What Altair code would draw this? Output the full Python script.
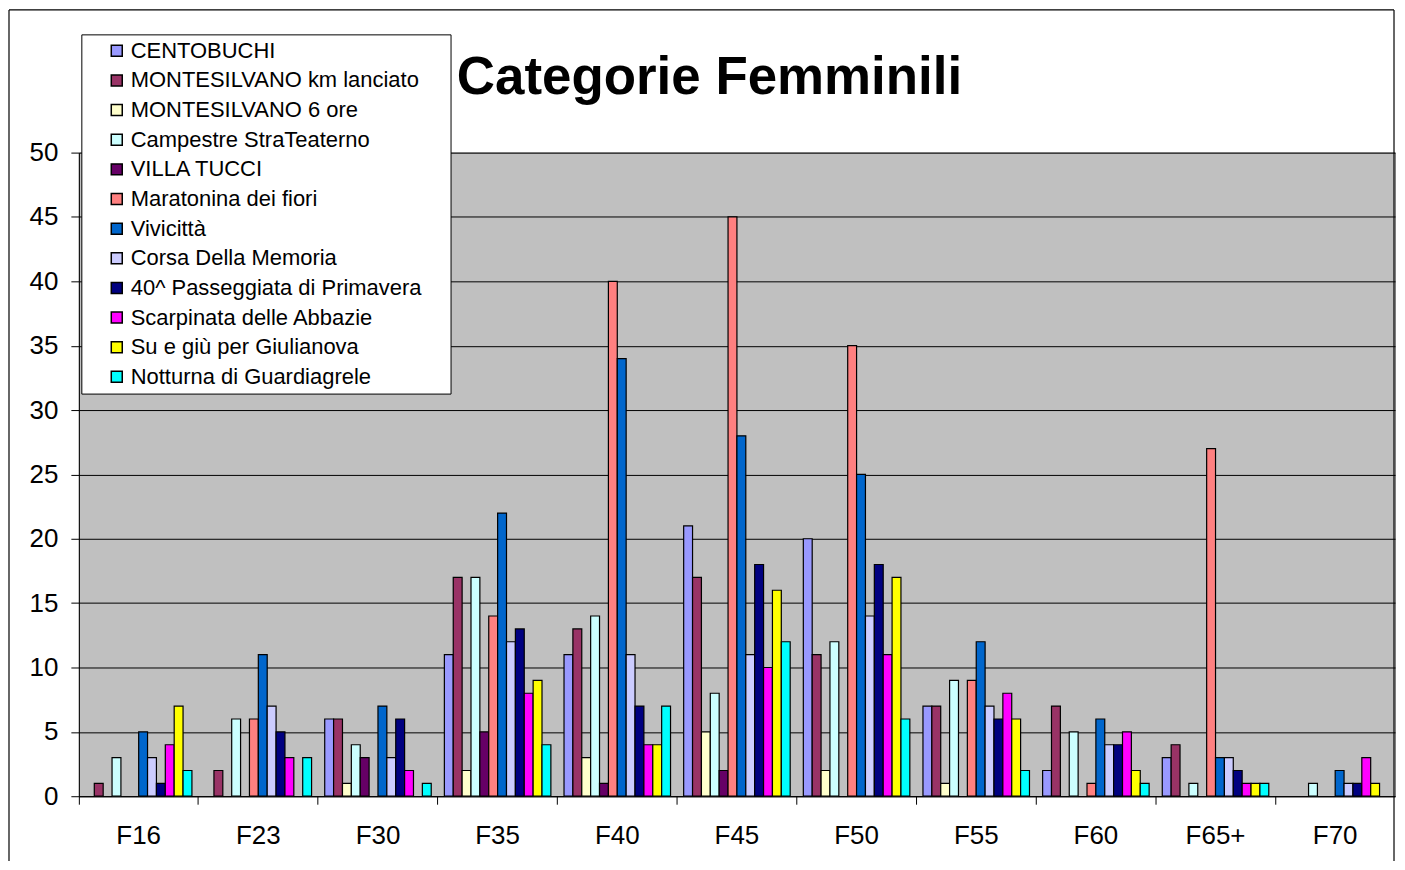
import altair as alt
import pandas as pd

categories = ["F16", "F23", "F30", "F35", "F40", "F45", "F50", "F55", "F60", "F65+", "F70"]

series = [
    "CENTOBUCHI",
    "MONTESILVANO km lanciato",
    "MONTESILVANO 6 ore",
    "Campestre StraTeaterno",
    "VILLA TUCCI",
    "Maratonina dei fiori",
    "Vivicittà",
    "Corsa Della Memoria",
    "40^ Passeggiata di Primavera",
    "Scarpinata delle Abbazie",
    "Su e giù per Giulianova",
    "Notturna di Guardiagrele",
]

colors = ["#9999FF", "#993366", "#FFFFCC", "#CCFFFF", "#660066", "#FF8080",
          "#0066CC", "#CCCCFF", "#000080", "#FF00FF", "#FFFF00", "#00FFFF"]

centobuchi   = [0, 0, 6, 11, 11, 21, 20, 7, 2, 3, 0]
km_lanciato  = [1, 2, 6, 17, 13, 17, 11, 7, 7, 4, 0]
sei_ore      = [0, 0, 1, 2, 3, 5, 2, 1, 0, 0, 0]
campestre    = [3, 6, 4, 17, 14, 8, 12, 9, 5, 1, 1]
villa_tucci  = [0, 0, 3, 5, 1, 2, 0, 0, 0, 0, 0]
maratonina   = [0, 6, 0, 14, 40, 45, 35, 9, 1, 27, 0]
vivicitta    = [5, 11, 7, 22, 34, 28, 25, 12, 6, 3, 2]
corsa        = [3, 7, 3, 12, 11, 11, 14, 7, 4, 3, 1]
passeggiata  = [1, 5, 6, 13, 7, 18, 18, 6, 4, 2, 1]
scarpinata   = [4, 3, 2, 8, 4, 10, 11, 8, 5, 1, 3]
giulianova   = [7, 0, 0, 9, 4, 16, 17, 6, 2, 1, 1]
notturna     = [2, 3, 1, 4, 7, 12, 6, 2, 1, 1, 0]

all_values = [centobuchi, km_lanciato, sei_ore, campestre, villa_tucci, maratonina,
              vivicitta, corsa, passeggiata, scarpinata, giulianova, notturna]

title_text = "Categorie Femminili"

rows = []
for s, vals in zip(series, all_values):
    for c, v in zip(categories, vals):
        rows.append({"categoria": c, "gara": s, "valore": v})
df = pd.DataFrame(rows)

FONT = "Liberation Sans"

bars = alt.Chart(df).transform_filter("datum.valore > 0").mark_bar(
    stroke="black", strokeWidth=1.2
).encode(
    x=alt.X("categoria:N", sort=categories,
            scale=alt.Scale(domain=categories, paddingInner=0, paddingOuter=0),
            axis=alt.Axis(title=None, labelAngle=0, labelFontSize=26, labelFont=FONT,
                          labelColor="black", bandPosition=0,
                          tickSize=8, tickColor="black", domainColor="black",
                          labelPadding=18, grid=False)),
    xOffset=alt.XOffset("gara:N", sort=series,
                        scale=alt.Scale(domain=series, paddingInner=0, paddingOuter=0.74)),
    y=alt.Y("valore:Q", scale=alt.Scale(domain=[0, 50], nice=False),
            axis=alt.Axis(title=None, values=list(range(0, 55, 5)), labelFontSize=26,
                          labelFont=FONT, labelColor="black", tickSize=8, tickColor="black",
                          domainColor="black", labelPadding=13, grid=True,
                          gridColor="black", gridWidth=1)),
    color=alt.Color("gara:N", sort=series,
                    scale=alt.Scale(domain=series, range=colors),
                    legend=alt.Legend(title=None, orient="none", legendX=27, legendY=-113,
                                      symbolType="square", symbolSize=121,
                                      symbolStrokeColor="black", symbolStrokeWidth=1.5,
                                      labelFont=FONT, labelFontSize=22, labelColor="black",
                                      rowPadding=7.7, labelOffset=3, labelLimit=500,
                                      padding=0)),
)

deco = alt.Data(values=[{"k": 1}])

legend_box = alt.Chart(deco).mark_rect(fill="white", stroke="black", strokeWidth=1).encode(
    x=alt.value(3), x2=alt.value(373), y=alt.value(-118), y2=alt.value(242)
)

title = alt.Chart(deco).mark_text(
    text=title_text, font=FONT, fontSize=53, fontWeight="bold", color="black",
    align="center", baseline="alphabetic"
).encode(x=alt.value(632), y=alt.value(-59))

frame_left = alt.Chart(deco).mark_rule(color="black", strokeWidth=1.2).encode(
    x=alt.value(-70), y=alt.value(-143), y2=alt.value(710)
)
frame_top = alt.Chart(deco).mark_rule(color="black", strokeWidth=1.2).encode(
    x=alt.value(-70), x2=alt.value(1318), y=alt.value(-143)
)
frame_right = alt.Chart(deco).mark_rule(color="black", strokeWidth=1.2).encode(
    x=alt.value(1318), y=alt.value(-143), y2=alt.value(710)
)

chart = alt.layer(bars, legend_box, title, frame_left, frame_top, frame_right).properties(
    width=1319,
    height=645,
    padding={"left": 71, "top": 144, "right": 2, "bottom": 65},
    autosize=alt.AutoSizeParams(type="none"),
    background="white",
).configure_view(fill="#C0C0C0", stroke="#808080", strokeWidth=1)

chart.save("out.html", embed_options={"renderer": "svg", "actions": False})
